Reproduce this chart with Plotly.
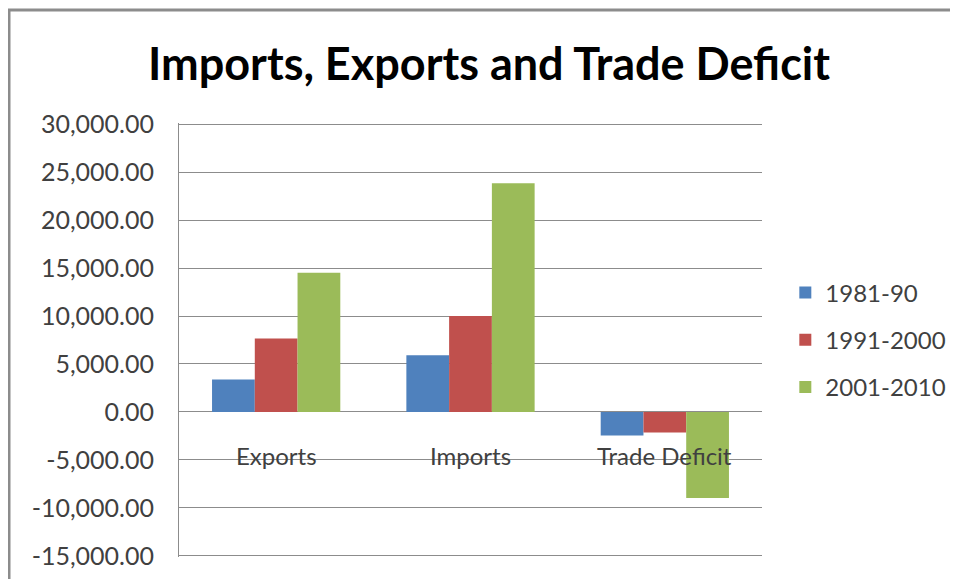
import plotly.graph_objects as go

categories = ["Exports", "Imports", "Trade Deficit"]
series_names = ["1981-90", "1991-2000", "2001-2010"]
v_1981_90 = [3390, 5910, -2460]
v_1991_2000 = [7645, 9990, -2145]
v_2001_2010 = [14520, 23830, -8950]
colors = ["#4F81BD", "#C0504D", "#9BBB59"]
tick_vals = [-15000, -10000, -5000, 0, 5000, 10000, 15000, 20000, 25000, 30000]
tick_text = ["{:,.2f}".format(v) for v in tick_vals]

FONT = "Lato"
# page has an 8px body margin, so the figure is drawn 8px in from the window corner
OFF = 8
W, H = 958 - OFF, 579 - OFF
L, R, T, B = 179 - OFF, 196, 123 - OFF, 22

fig = go.Figure()
for name, vals, col in zip(series_names, [v_1981_90, v_1991_2000, v_2001_2010], colors):
    fig.add_trace(go.Bar(x=categories, y=vals, name=name, marker=dict(color=col, line=dict(width=0)),
                         legendgroup=name))

for c in categories:
    fig.add_annotation(x=c, y=0, xref="x", yref="y", text=c, showarrow=False,
                       yanchor="middle", yshift=-44,
                       font=dict(family=FONT, size=24, color="#404040"))

pw = W - L - R
ph = H - T - B
fig.add_shape(type="rect", xref="paper", yref="paper",
              x0=(1 - L) / pw, x1=(975 - L) / pw,
              y0=-0.2, y1=(H - B - 2) / ph,
              line=dict(color="#8c8c8c", width=3), fillcolor="rgba(0,0,0,0)", layer="below")

fig.update_layout(
    width=W, height=H,
    margin=dict(l=L, r=R, t=T, b=B, autoexpand=False),
    paper_bgcolor="white", plot_bgcolor="white",
    barmode="group", bargap=0.34, bargroupgap=0,
    title=dict(text="<b>Imports, Exports and Trade Deficit</b>", xref="container", yref="container",
               x=(489 - OFF) / W, y=1 - (64 - OFF) / H, xanchor="center", yanchor="middle",
               font=dict(family=FONT, size=45, color="black")),
    legend=dict(x=1.04, y=0.5, xanchor="left", yanchor="middle",
                font=dict(family=FONT, size=24, color="#404040"),
                tracegroupgap=13, traceorder="grouped", bgcolor="rgba(0,0,0,0)"),
    font=dict(family=FONT),
    showlegend=True,
)
fig.update_xaxes(showticklabels=False, showgrid=False, showline=False, zeroline=False, ticks="")
fig.update_yaxes(range=[-15110, 30110], tickvals=tick_vals, ticktext=tick_text,
                 showgrid=True, gridcolor="#8c8c8c", gridwidth=1,
                 zeroline=True, zerolinecolor="#8c8c8c", zerolinewidth=1,
                 showline=True, linecolor="#8c8c8c", linewidth=1,
                 ticks="", ticklabelstandoff=19,
                 tickfont=dict(family=FONT, size=25, color="#404040"))

fig.write_html("out.html")
